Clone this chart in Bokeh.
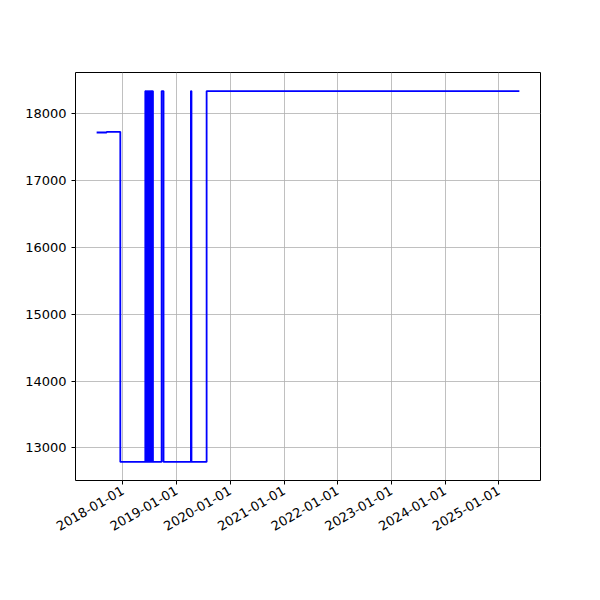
import math
import pandas as pd
from bokeh.plotting import figure
from bokeh.models import FixedTicker, DatetimeTickFormatter, DataRange1d
from bokeh.embed import file_html
from bokeh.resources import INLINE

dates = ["2017-07-06", "2017-09-12", "2017-12-14",
         "2018-06-02", "2018-06-06", "2018-06-10", "2018-06-14", "2018-06-18",
         "2018-06-22", "2018-06-26", "2018-06-30", "2018-07-04", "2018-07-08",
         "2018-07-12", "2018-07-16", "2018-07-20", "2018-07-24",
         "2018-09-21", "2018-10-04",
         "2019-04-08", "2019-04-12",
         "2019-07-24", "2025-05-20"]
values = [17720, 17730, 12790,
          18340, 12790, 18340, 12790, 18340,
          12790, 18340, 12790, 18340, 12790,
          18340, 12790, 18340, 12790,
          18340, 12790,
          18340, 12790,
          18340, 18340]
tick_labels = ["2018-01-01", "2019-01-01", "2020-01-01", "2021-01-01",
               "2022-01-01", "2023-01-01", "2024-01-01", "2025-01-01"]
y_ticks = [13000, 14000, 15000, 16000, 17000, 18000]

x = pd.to_datetime(dates)
font = "DejaVu Sans"

p = figure(width=600, height=600, output_backend="svg", toolbar_location=None,
           x_axis_type="datetime",
           x_range=DataRange1d(range_padding=0.1),
           y_range=DataRange1d(range_padding=0.1),
           min_border_left=75, min_border_right=60,
           min_border_top=72, min_border_bottom=120)
p.step(x, values, mode="after", line_color="blue", line_width=1.8)

tick_ms = [pd.Timestamp(t).value / 1e6 for t in tick_labels]
p.xaxis.ticker = FixedTicker(ticks=tick_ms)
p.xaxis.formatter = DatetimeTickFormatter(years="%Y-%m-%d", months="%Y-%m-%d",
                                          days="%Y-%m-%d")
p.xaxis.major_label_orientation = math.pi / 6
p.yaxis.ticker = FixedTicker(ticks=y_ticks)

for ax in (p.xaxis, p.yaxis):
    ax.major_label_text_font = font
    ax.major_label_text_font_size = "13px"
    ax.major_label_text_color = "black"
    ax.axis_line_color = None
    ax.major_tick_line_color = "black"
    ax.major_tick_out = 4
    ax.major_tick_in = 0
    ax.minor_tick_line_color = None

p.grid.grid_line_color = "#b0b0b0"
p.grid.grid_line_width = 0.8
p.outline_line_color = "black"
p.outline_line_width = 1
p.background_fill_color = "white"
p.border_fill_color = "white"

open("out.html", "w").write(file_html(p, INLINE))
